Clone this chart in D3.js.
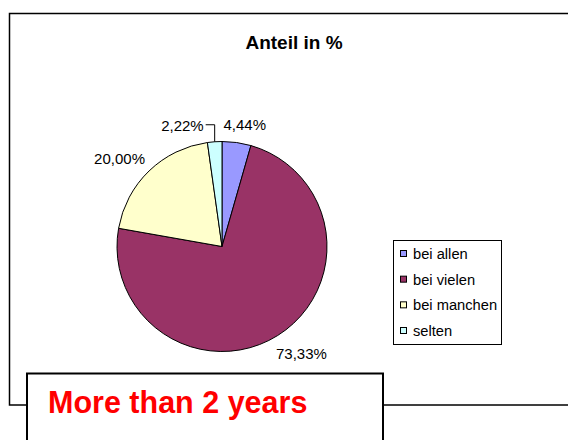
<!DOCTYPE html>
<html>
<head>
<meta charset="utf-8">
<script src="https://cdn.jsdelivr.net/npm/d3@7"></script>
<style>
  html, body { margin: 0; padding: 0; background: #fff; }
  svg { display: block; font-family: "Liberation Sans", Arial, sans-serif; }
</style>
</head>
<body>
<svg id="chart" width="568" height="440"></svg>
<script>
// Anteil in % per Kategorie
const categories = ["bei allen", "bei vielen", "bei manchen", "selten"];
const shares = [4.44, 73.33, 20.00, 2.22];
const colors = ["#9999FF", "#993366", "#FFFFCC", "#CCFFFF"];
const title = "Anteil in %";
const banner = "More than 2 years";

const svg = d3.select("#chart");

// chart area frame (runs off the right edge)
svg.append("rect")
  .attr("x", 9.5).attr("y", 13.5)
  .attr("width", 620).attr("height", 391.5)
  .attr("fill", "#fff").attr("stroke", "#000").attr("stroke-width", 1.5);

svg.append("text")
  .attr("x", 294).attr("y", 49)
  .attr("text-anchor", "middle")
  .attr("font-size", 19).attr("font-weight", "bold")
  .text(title);

// pie
const cx = 222, cy = 246.5, R = 105;
const g = svg.append("g").attr("transform", `translate(${cx},${cy})`);
const pie = d3.pie().sort(null).value(d => d.v);
const arcs = pie(shares.map((v, i) => ({ v, i })));
const arc = d3.arc().innerRadius(0).outerRadius(R);

g.selectAll("path").data(arcs).join("path")
  .attr("d", arc)
  .attr("fill", d => colors[d.data.i])
  .attr("stroke", "#000").attr("stroke-width", 1);

const fmt = v => d3.format(".2f")(v).replace(".", ",") + "%";
const fs = 15;

arcs.forEach(d => {
  const a = (d.startAngle + d.endAngle) / 2;
  const s = Math.sin(a), c = Math.cos(a);
  const txt = fmt(d.data.v);
  const t = g.append("text").attr("font-size", fs).attr("fill", "#000").text(txt);
  const w = t.node().getComputedTextLength();
  if (d.data.v < 3) {
    // small slice: label pulled to the left with an elbow leader
    const px = R * s, py = -R * c;
    const ly = py - 17;
    const lx = px - 10;
    g.append("path")
      .attr("d", `M${lx + 1},${ly} L${px},${ly} L${px},${py}`)
      .attr("fill", "none").attr("stroke", "#000").attr("stroke-width", 1);
    t.attr("x", lx - 1).attr("y", ly + 6).attr("text-anchor", "end");
  } else {
    const r = R + 12;
    const k = s > 0 ? 0.6 : 0.5;
    const x = r * s + Math.sign(s) * Math.pow(Math.abs(s), k) * w / 2;
    const y = -r * c - c * fs / 2;
    t.attr("x", x).attr("y", y + 7).attr("text-anchor", "middle");
  }
});

// legend
const lg = svg.append("g");
lg.append("rect")
  .attr("x", 393.5).attr("y", 240.5)
  .attr("width", 108).attr("height", 104)
  .attr("fill", "#fff").attr("stroke", "#000").attr("stroke-width", 1);
const rowY = d3.scalePoint().domain(categories).range([254, 331]);
const items = lg.selectAll("g.item").data(categories).join("g")
  .attr("transform", d => `translate(400,${rowY(d)})`);
items.append("rect")
  .attr("x", 0.5).attr("y", -3.5).attr("width", 6).attr("height", 6)
  .attr("fill", (d, i) => colors[i]).attr("stroke", "#000").attr("stroke-width", 1);
items.append("text")
  .attr("x", 13).attr("y", 5)
  .attr("font-size", 14.7)
  .text(d => d);

// banner box
svg.append("rect")
  .attr("x", 27).attr("y", 373.5)
  .attr("width", 356).attr("height", 100)
  .attr("fill", "#fff").attr("stroke", "#000").attr("stroke-width", 2);
svg.append("text")
  .attr("x", 48).attr("y", 413)
  .attr("font-size", 30.5).attr("font-weight", "bold")
  .attr("fill", "#FF0000")
  .text(banner);
</script>
</body>
</html>
